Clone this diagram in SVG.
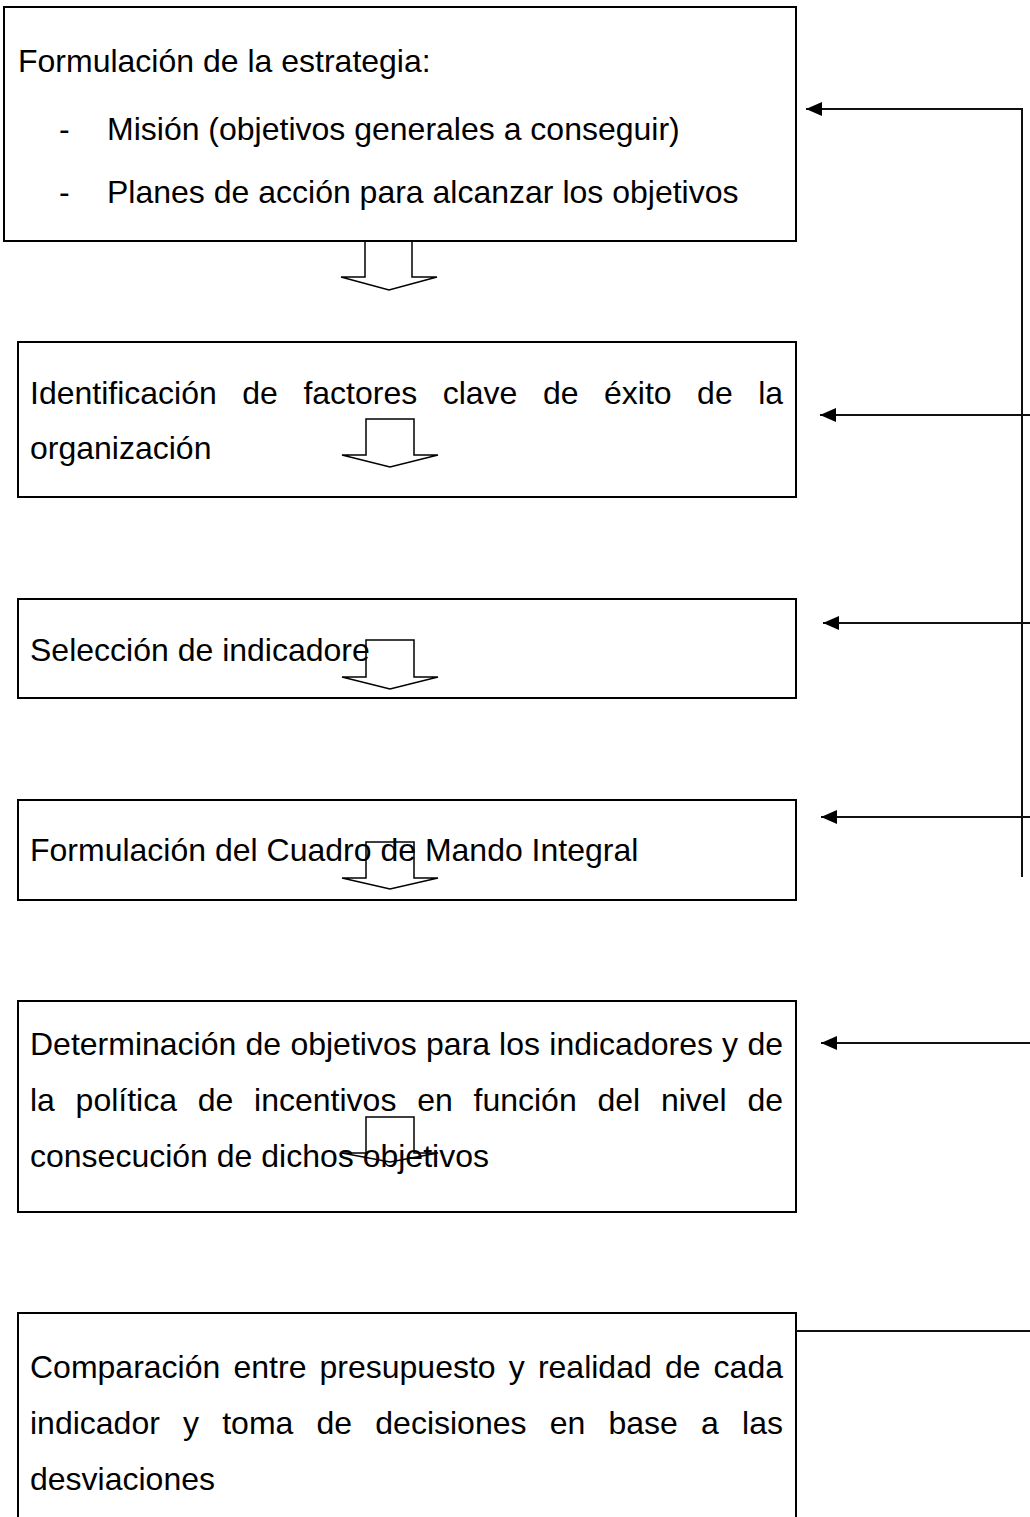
<svg xmlns="http://www.w3.org/2000/svg" width="1030" height="1517" viewBox="0 0 1030 1517">
<style>
.box{fill:none;stroke:#000;stroke-width:2}
.t{font-family:"Liberation Sans",Arial,sans-serif;font-size:32px;fill:#000}
.hollow{fill:none;stroke:#000;stroke-width:1.5;stroke-linejoin:miter}
.conn{fill:none;stroke:#111;stroke-width:2}
</style>
<defs>
<marker id="ah" markerUnits="userSpaceOnUse" markerWidth="18" markerHeight="16" refX="16" refY="7" orient="auto">
<path d="M0,0 L16,7 L0,14 Z" fill="#000"/>
</marker>
</defs>
<rect width="1030" height="1517" fill="#fff"/>

<g id="n1">
<rect class="box" x="4" y="7" width="792" height="234"/>
<text class="t" x="18" y="72">Formulación de la estrategia:</text>
<text class="t" x="59" y="140">-</text>
<text class="t" x="107" y="140">Misión (objetivos generales a conseguir)</text>
<text class="t" x="59" y="203">-</text>
<text class="t" x="107" y="203">Planes de acción para alcanzar los objetivos</text>
</g>

<g id="n2">
<rect class="box" x="18" y="342" width="778" height="155"/>
<text class="t" y="404"><tspan x="30">Identificación</tspan><tspan x="242.3">de</tspan><tspan x="303.4">factores</tspan><tspan x="442.7">clave</tspan><tspan x="542.9">de</tspan><tspan x="604">éxito</tspan><tspan x="697.1">de</tspan><tspan x="758.2">la</tspan></text>
<text class="t" x="30" y="459">organización</text>
</g>

<g id="n3">
<rect class="box" x="18" y="599" width="778" height="99"/>
<text class="t" x="30" y="661">Selección de indicadore</text>
</g>

<g id="n4">
<rect class="box" x="18" y="800" width="778" height="100"/>
<text class="t" x="30" y="861">Formulación del Cuadro de Mando Integral</text>
</g>

<g id="n5">
<rect class="box" x="18" y="1001" width="778" height="211"/>
<text class="t" y="1055"><tspan x="30">Determinación</tspan><tspan x="245.5">de</tspan><tspan x="290.4">objetivos</tspan><tspan x="425.9">para</tspan><tspan x="499.1">los</tspan><tspan x="549.3">indicadores</tspan><tspan x="722.1">y</tspan><tspan x="747.4">de</tspan></text>
<text class="t" y="1111"><tspan x="30">la</tspan><tspan x="75.6">política</tspan><tspan x="197.8">de</tspan><tspan x="254.1">incentivos</tspan><tspan x="417.2">en</tspan><tspan x="473.5">función</tspan><tspan x="597.4">del</tspan><tspan x="660.9">nivel</tspan><tspan x="747.4">de</tspan></text>
<text class="t" x="30" y="1167">consecución de dichos objetivos</text>
</g>

<g id="n6">
<rect class="box" x="18" y="1313" width="778" height="230"/>
<text class="t" y="1378"><tspan x="30">Comparación</tspan><tspan x="233.5">entre</tspan><tspan x="319.5">presupuesto</tspan><tspan x="508.8">y</tspan><tspan x="537.9">realidad</tspan><tspan x="664.9">de</tspan><tspan x="713.6">cada</tspan></text>
<text class="t" y="1434"><tspan x="30">indicador</tspan><tspan x="183">y</tspan><tspan x="222.2">toma</tspan><tspan x="316.5">de</tspan><tspan x="375.3">decisiones</tspan><tspan x="549.7">en</tspan><tspan x="608.5">base</tspan><tspan x="701.1">a</tspan><tspan x="742.1">las</tspan></text>
<text class="t" x="30" y="1490">desviaciones</text>
</g>

<g id="connectors">
<polygon class="hollow" points="365,241 412,241 412,277 437,277 389,290 341,277 365,277"/>
<polygon class="hollow" points="366,419 414,419 414,455 438,455 390,467 342,455 366,455"/>
<polygon class="hollow" points="366,640 414,640 414,677 438,677 390,689 342,677 366,677"/>
<polygon class="hollow" points="366,842 414,842 414,878 438,878 390,889 342,878 366,878"/>
<polygon class="hollow" points="366,1117 414,1117 414,1153 438,1153 390,1162 342,1153 366,1153"/>

<path class="conn" d="M1022,877 V109 H806" marker-end="url(#ah)"/>
<path class="conn" d="M1030,415 H820" marker-end="url(#ah)"/>
<path class="conn" d="M1030,623 H823" marker-end="url(#ah)"/>
<path class="conn" d="M1030,817 H821" marker-end="url(#ah)"/>
<path class="conn" d="M1030,1043 H821" marker-end="url(#ah)"/>
<path class="conn" d="M796,1331 H1030"/>
</g>
</svg>
